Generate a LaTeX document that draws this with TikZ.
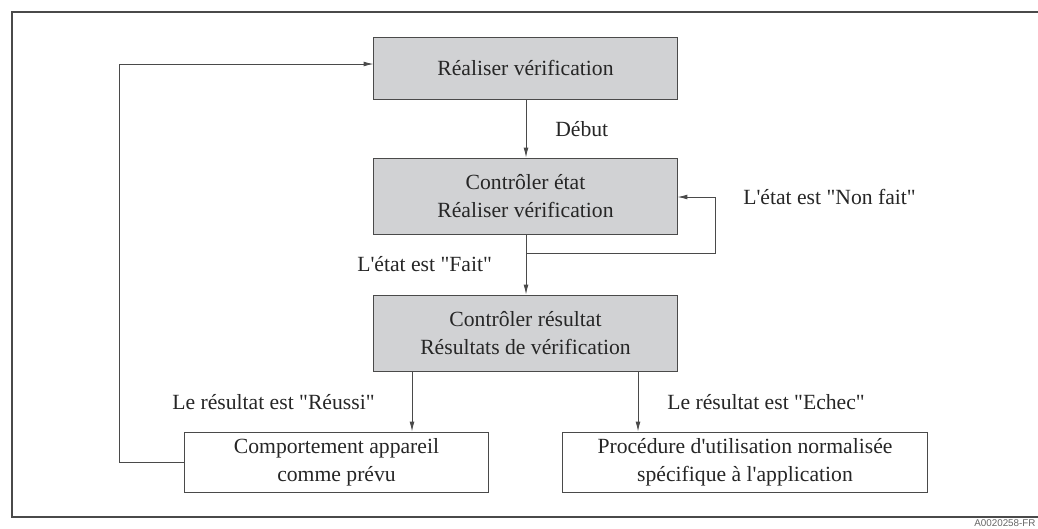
\documentclass[tikz,border=0pt]{standalone}
\usepackage{fontspec}
\usetikzlibrary{arrows.meta}
\newfontfamily\diagfont{Liberation Serif}
\newfontfamily\tagfont{Liberation Sans}
\definecolor{boxgray}{HTML}{D1D2D4}
\definecolor{linegray}{HTML}{4A4A4A}

\begin{document}
\begin{tikzpicture}[x=0.025cm, y=-0.025cm,
    font=\diagfont\fontsize{15.4}{19.9}\selectfont,
    stepbox/.style={draw=linegray, line width=0.7pt, fill=boxgray, align=center, inner sep=0pt, text=black!85},
    endbox/.style={draw=linegray, line width=0.7pt, fill=white, align=center, inner sep=0pt, text=black!85},
    lbl/.style={inner sep=0pt, anchor=west, text=black!85},
    flow/.style={draw=linegray, line width=0.6pt, -{Latex[length=7pt,width=3.4pt]}}]
      \useasboundingbox (0,0) rectangle (1038,528);
      % \draw[very thin, gray, step=50] (0,0) grid (1038,528);
      \draw[linegray, line width=1.4pt] (1038,12) -- (12,12) -- (12,517) -- (1038,517);

      \node[stepbox, minimum width=7.575cm, minimum height=1.55cm] (real) at (525.5,68) {R\'ealiser v\'erification};
      \node[stepbox, minimum width=7.575cm, minimum height=1.9cm] (etat) at (525.5,196) {Contr\^oler \'etat\\R\'ealiser v\'erification};
      \node[stepbox, minimum width=7.575cm, minimum height=1.9cm] (resu) at (525.5,333) {Contr\^oler r\'esultat\\R\'esultats de v\'erification};
      \node[endbox, minimum width=7.575cm, minimum height=1.5cm] (comp) at (336.5,462) {Comportement appareil\\comme pr\'evu};
      \node[endbox, minimum width=9.1cm, minimum height=1.5cm] (proc) at (745,462) {Proc\'edure d'utilisation normalis\'ee\\sp\'ecifique \`a l'application};

      \coordinate (split) at (526,253);
      \coordinate (loop) at (715,197);
      \coordinate (ok) at (412,400);
      \coordinate (ko) at (638,400);
      \coordinate (back) at (119,64);

      \draw[flow] (real.south -| split) -- (etat.north -| split);
      \draw[flow] (etat.south -| split) -- (resu.north -| split);
      \draw[flow] (split) -| (loop) -- (loop -| etat.east);
      \draw[flow] (resu.south -| ok) -- (comp.north -| ok);
      \draw[flow] (resu.south -| ko) -- (proc.north -| ko);
      \draw[flow] (comp.west) -| (back) -- (back -| real.west);

      \node[lbl] (debut) at (555,129) {D\'ebut};
      \node[lbl] (nonfait) at (743,197) {L'\'etat est "Non fait"};
      \node[lbl] (fait) at (357,264) {L'\'etat est "Fait"};
      \node[lbl] (reussi) at (172,402) {Le r\'esultat est "R\'eussi"};
      \node[lbl] (echec) at (667,402) {Le r\'esultat est "Echec"};

      \node[anchor=base west, inner sep=0pt, text=black!60, font=\tagfont\fontsize{7}{8}\selectfont] (ref) at (974,526) {A0020258-FR};
\end{tikzpicture}
\end{document}
